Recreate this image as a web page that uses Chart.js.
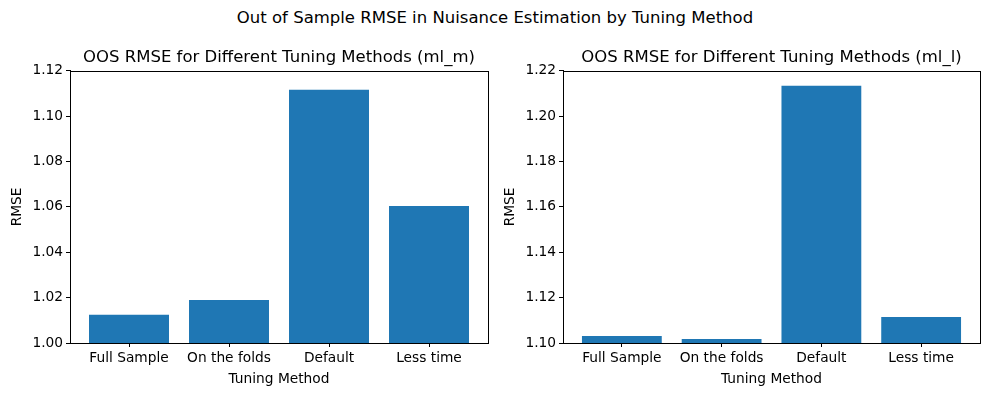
<!DOCTYPE html>
<html>
<head>
<meta charset="utf-8">
<script src="https://cdn.jsdelivr.net/npm/chart.js@4.4.1/dist/chart.umd.min.js"></script>
<style>
  body { margin: 0; background: #fff; width: 990px; height: 396px; position: relative; overflow: hidden; font-family: 'DejaVu Sans', sans-serif; }
  #suptitle { position: absolute; left: 0; top: 8px; width: 990px; text-align: center; font-size: 16.5px; color: #000; }
  .box { position: absolute; top: 40px; width: 495px; height: 356px; }
</style>
</head>
<body>
<div id="suptitle">Out of Sample RMSE in Nuisance Estimation by Tuning Method</div>
<div class="box" style="left:0"><canvas id="grafico-ml-m"></canvas></div>
<div class="box" style="left:495px"><canvas id="grafico-ml-l"></canvas></div>
<script>
// categorias e valores
const metodos = ['Full Sample', 'On the folds', 'Default', 'Less time'];
const rmseMlM = [1.0124, 1.0190, 1.1116, 1.0604];
const rmseMlL = [1.1031, 1.1018, 1.2134, 1.1115];
const ticksMlM = [1.00, 1.02, 1.04, 1.06, 1.08, 1.10, 1.12];
const ticksMlL = [1.10, 1.12, 1.14, 1.16, 1.18, 1.20, 1.22];

const fonte = 'DejaVu Sans';

// desenha as quatro bordas do eixo (estilo matplotlib)
const molduraPlugin = {
    id: 'moldura',
    afterDraw(chart) {
        const { ctx, chartArea: a } = chart;
        ctx.save();
        ctx.strokeStyle = '#000';
        ctx.lineWidth = 1;
        ctx.strokeRect(Math.round(a.left) + 0.5, Math.round(a.top) + 0.5, Math.round(a.right - a.left), Math.round(a.bottom - a.top));
        ctx.restore();
    }
};

function criarGrafico(id, titulo, valores, yTicks, opts) {
    const ctx = document.getElementById(id).getContext('2d');
    return new Chart(ctx, {
        type: 'bar',
        data: {
            datasets: [{
                data: valores.map((v, i) => ({ x: i, y: v })),
                backgroundColor: '#1f77b4',
                borderWidth: 0,
                categoryPercentage: 1,
                barPercentage: 0.8
            }]
        },
        options: {
            responsive: true, maintainAspectRatio: false, animation: false,
            layout: { padding: { left: 0, right: opts.padRight, top: 0, bottom: 0 } },
            plugins: {
                legend: { display: false },
                tooltip: { enabled: false },
                title: {
                    display: true, text: titulo, fullSize: false, color: '#000',
                    font: { family: fonte, size: 16.5, weight: 'normal' },
                    padding: { top: 8, bottom: 3 }
                }
            },
            scales: {
                x: {
                    type: 'linear', min: -0.59, max: 3.59, offset: false,
                    afterBuildTicks: s => { s.ticks = metodos.map((m, i) => ({ value: i })); },
                    afterFit: s => { s.height = 53; },
                    ticks: {
                        callback: v => metodos[v], color: '#000', padding: 3, maxRotation: 0, autoSkip: false,
                        font: { family: fonte, size: 13.75 }
                    },
                    grid: { offset: false, drawOnChartArea: false, drawTicks: true, tickLength: 4, color: '#000' },
                    border: { display: true, color: '#000' },
                    title: { display: true, text: 'Tuning Method', color: '#000', font: { family: fonte, size: 13.75 }, padding: { top: 0, bottom: 8 } }
                },
                y: {
                    min: yTicks[0], max: yTicks[yTicks.length - 1],
                    afterBuildTicks: s => { s.ticks = yTicks.map(v => ({ value: v })); },
                    afterFit: s => { s.width = opts.yWidth; },
                    ticks: {
                        callback: v => v.toFixed(2), color: '#000', padding: 3,
                        font: { family: fonte, size: 13.75 }
                    },
                    grid: { drawOnChartArea: false, drawTicks: true, tickLength: 4, color: '#000' },
                    border: { display: true, color: '#000' },
                    title: { display: true, text: 'RMSE', color: '#000', font: { family: fonte, size: 13.75 }, padding: { top: opts.yTitlePad, bottom: 0 } }
                }
            }
        },
        plugins: [molduraPlugin]
    });
}

criarGrafico('grafico-ml-m', 'OOS RMSE for Different Tuning Methods (ml_m)', rmseMlM, ticksMlM, { padRight: 7, yWidth: 70, yTitlePad: 9 });
criarGrafico('grafico-ml-l', 'OOS RMSE for Different Tuning Methods (ml_l)', rmseMlL, ticksMlL, { padRight: 10, yWidth: 68, yTitlePad: 7 });
</script>
</body>
</html>
